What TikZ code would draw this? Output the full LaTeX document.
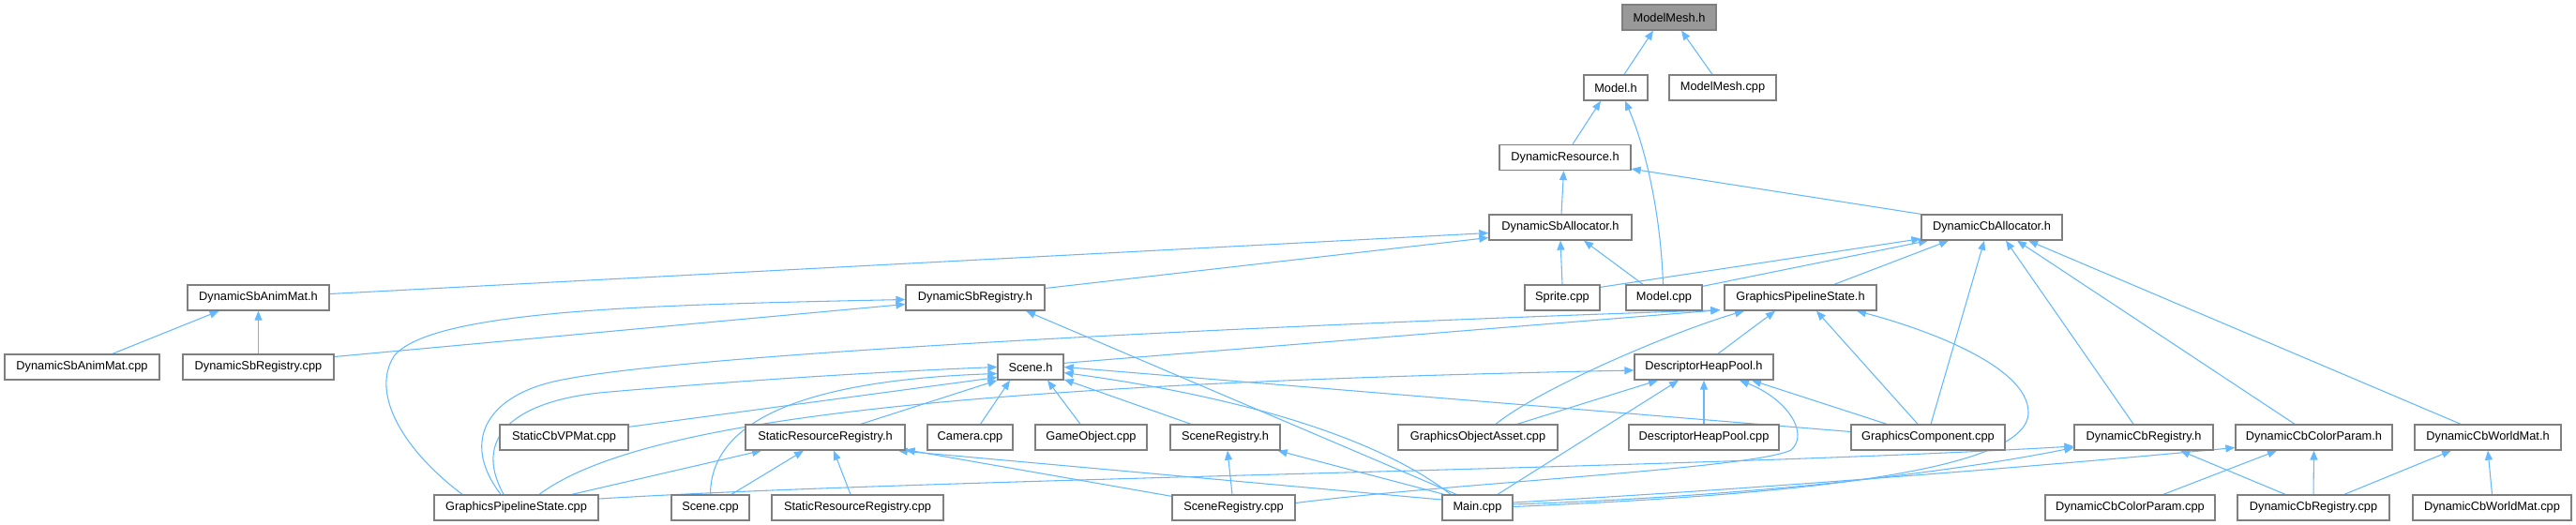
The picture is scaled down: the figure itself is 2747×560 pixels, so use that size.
\documentclass[tikz,border=0pt]{standalone}
\usepackage{fontspec}
\setmainfont{Liberation Sans}
\usetikzlibrary{arrows.meta,calc}
\definecolor{edgec}{HTML}{63B8FF}
\definecolor{boxc}{HTML}{7F7F7F}
\definecolor{topc}{HTML}{999999}
\pgfdeclarelayer{bg}
\pgfsetlayers{bg,main}
\tikzset{
  nbox/.style={draw=boxc, line width=1pt, fill=white, minimum height=20.25pt, inner sep=0pt,
    font=\fontsize{9.6}{11}\selectfont, text=black},
  edg/.style={draw=edgec, line width=0.8pt, -{Triangle[length=7.5pt,width=6pt]}},
}
\newcommand{\mkbox}[6][]{\node[nbox,#1,minimum width={#5*0.75pt}] (#2) at (#3,#4) {#6};}
\begin{document}
\begin{tikzpicture}[x=0.75pt,y=-0.75pt]
\useasboundingbox (0,0) rectangle (2747,560);
% row 1-4
\mkbox[fill=topc]{mm}{1780}{18.5}{100}{ModelMesh.h}
\mkbox{mh}{1723}{93.5}{68}{Model.h}
\mkbox{mmc}{1837}{93.5}{114}{ModelMesh.cpp}
\mkbox{dr}{1669}{168}{140}{DynamicResource.h}
\mkbox{dsa}{1664}{242.5}{152}{DynamicSbAllocator.h}
\mkbox{dca}{2124}{242.5}{150}{DynamicCbAllocator.h}
% row 5
\mkbox{dsam}{275.5}{317.5}{151}{DynamicSbAnimMat.h}
\mkbox{dsr}{1040}{317.5}{148}{DynamicSbRegistry.h}
\mkbox{spr}{1666}{317.5}{80}{Sprite.cpp}
\mkbox{mc}{1774.5}{317.5}{81}{Model.cpp}
\mkbox{gpsh}{1920}{317.5}{162}{GraphicsPipelineState.h}
% row 6
\mkbox{dsamc}{87.5}{391.5}{165}{DynamicSbAnimMat.cpp}
\mkbox{dsrc}{275.5}{391.5}{161}{DynamicSbRegistry.cpp}
\mkbox{sh}{1099}{391.5}{70}{Scene.h}
\mkbox{dhp}{1817}{391.5}{148}{DescriptorHeapPool.h}
% row 7
\mkbox{scb}{601.5}{466.5}{137}{StaticCbVPMat.cpp}
\mkbox{srr}{880}{466.5}{170}{StaticResourceRegistry.h}
\mkbox{cam}{1034.5}{466.5}{91}{Camera.cpp}
\mkbox{go}{1163.5}{466.5}{119}{GameObject.cpp}
\mkbox{srh}{1306.5}{466.5}{117}{SceneRegistry.h}
\mkbox{goa}{1576}{466.5}{170}{GraphicsObjectAsset.cpp}
\mkbox{dhpc}{1817}{466.5}{160}{DescriptorHeapPool.cpp}
\mkbox{gc}{2056}{466.5}{164}{GraphicsComponent.cpp}
\mkbox{dcr}{2286}{466.5}{148}{DynamicCbRegistry.h}
\mkbox{dccp}{2467.5}{466.5}{167}{DynamicCbColorParam.h}
\mkbox{dcwm}{2653}{466.5}{156}{DynamicCbWorldMat.h}
% row 8
\mkbox{gpsc}{550.5}{541.5}{175}{GraphicsPipelineState.cpp}
\mkbox{scc}{757.5}{541.5}{83}{Scene.cpp}
\mkbox{srrc}{914.5}{541.5}{183}{StaticResourceRegistry.cpp}
\mkbox{src}{1315.5}{541.5}{131}{SceneRegistry.cpp}
\mkbox{main}{1575.5}{541.5}{75}{Main.cpp}
\mkbox{dccpc}{2271.5}{541.5}{181}{DynamicCbColorParam.cpp}
\mkbox{dcrc}{2467}{541.5}{162}{DynamicCbRegistry.cpp}
\mkbox{dcwmc}{2657.5}{541.5}{169}{DynamicCbWorldMat.cpp}

\begin{pgfonlayer}{bg}
% upper part
\draw[edg] ($(mh.north)+(9,0)$) -- ($(mm.south)+(-17,0)$);
\draw[edg] ($(mmc.north)+(-11,0)$) -- ($(mm.south)+(13,0)$);
\draw[edg] ($(dr.north)+(8,0)$) -- ($(mh.south)+(-16,0)$);
\draw[edg] ($(mc.north)+(-1,0)$) .. controls +(-3,-84) and +(19,43) .. ($(mh.south)+(10,0)$);
\draw[edg] ($(dsa.north)+(1,0)$) -- ($(dr.south)+(-1.5,0)$);
\draw[edg] (dca.north west) -- ($(dr.south east)+(0,-2)$);
% DynamicSbAllocator.h
\draw[edg] ($(dsam.east)+(0,-4)$) -- ($(dsa.west)+(0,6)$);
\draw[edg] ($(dsr.east)+(0,-10)$) -- ($(dsa.west)+(0,11)$);
\draw[edg] (spr.north) -- (dsa.south);
\draw[edg] ($(mc.north)+(-22.5,0)$) -- ($(dsa.south)+(25,0)$);
% DynamicCbAllocator.h
\draw[edg] ($(spr.north east)+(0,3)$) -- ($(dca.south west)+(0,-2)$);
\draw[edg] ($(mc.north east)+(0,2)$) -- ($(dca.south)+(-68,0)$);
\draw[edg] ($(gpsh.north)+(36,0)$) -- ($(dca.south)+(-46,0)$);
\draw[edg] ($(gc.north)+(3,0)$) -- ($(dca.south)+(-8,0)$);
\draw[edg] ($(dcr.north)+(-11,0)$) -- ($(dca.south)+(15,0)$);
\draw[edg] ($(dccp.north)+(-20.5,0)$) -- ($(dca.south)+(27,0)$);
\draw[edg] ($(dcwm.north)+(-29,0)$) -- ($(dca.south)+(39,0)$);
% DynamicSbAnimMat.h / DynamicSbRegistry.h
\draw[edg] ($(dsamc.north)+(32.5,0)$) -- ($(dsam.south)+(-42,0)$);
\draw[edg] (dsrc.north) -- (dsam.south);
\draw[edg] ($(dsrc.east)+(0,-11)$) -- ($(dsr.west)+(0,7)$);
\draw[edg] ($(gpsc.north)+(-57.5,0)$) .. controls (430,480) and (395,420) .. (420,380)
   .. controls (460,330) and (700,325) .. ($(dsr.west)+(0,2)$);
\draw[edg] ($(main.north)+(-22.5,0)$) -- ($(dsr.south)+(54,0)$);
% GraphicsPipelineState.h
\draw[edg] ($(sh.north east)+(0,10)$) -- ($(gpsh.south west)+(-4,-1)$);
\draw[edg] ($(gpsc.north)+(-16.5,0)$) .. controls (490,470) and (520,420) .. (600,405)
   .. controls (750,375) and (1400,345) .. ($(gpsh.south west)+(-4,-1)$);
\draw[edg] ($(dhp.north)+(15,0)$) -- ($(gpsh.south)+(-27,0)$);
\draw[edg] ($(goa.north)+(19,0)$) .. controls +(50,-40) and +(-70,20) .. ($(gpsh.south)+(-60,0)$);
\draw[edg] ($(gc.north)+(-11,0)$) -- ($(gpsh.south)+(17,0)$);
\draw[edg] ($(main.east)+(0,-1)$) .. controls (1900,528) and (2163,505) .. (2163,440)
   .. controls (2163,390) and (2050,350) .. ($(gpsh.south)+(60,0)$);
% Scene.h
\draw[edg] ($(gpsc.north)+(-13.5,0)$) .. controls (500,460) and (560,425) .. (650,418)
   .. controls (800,405) and (950,396) .. (sh.west);
\draw[edg] (scc.north) .. controls (758,440) and (880,405) .. ($(sh.west)+(0,7)$);
\draw[edg] ($(scb.north east)+(0,3)$) -- ($(sh.west)+(0,11)$);
\draw[edg] ($(srr.north)+(38,0)$) -- (sh.south west);
\draw[edg] ($(cam.north)+(11,0)$) -- ($(sh.south)+(-22,0)$);
\draw[edg] ($(go.north)+(-11.5,0)$) -- ($(sh.south)+(18,0)$);
\draw[edg] ($(srh.north)+(-36.5,0)$) -- ($(sh.south east)+(0,-1)$);
\draw[edg] ($(main.north)+(-28.5,0)$) .. controls (1460,460) and (1300,420) .. ($(sh.east)+(0,6)$);
\draw[edg] ($(gc.west)+(0,-6)$) -- (sh.east);
% DescriptorHeapPool.h
\draw[edg] ($(gpsc.north)+(24.5,0)$) .. controls (680,450) and (1000,410) .. ($(dhp.west)+(0,3.5)$);
\draw[edg] ($(goa.north)+(42,0)$) -- ($(dhp.south)+(-49,0)$);
\draw[edg] ($(main.north)+(21.5,0)$) -- ($(dhp.south)+(-27,0)$);
\draw[edg] (dhpc.north) -- (dhp.south);
\draw[edg] ($(gc.north)+(-44,0)$) -- ($(dhp.south)+(51,0)$);
\draw[edg] ($(src.east)+(0,-5)$) .. controls (1550,515) and (1870,500) .. (1910,480)
   .. controls (1930,462) and (1905,425) .. ($(dhp.south)+(38,0)$);
% DynamicCbRegistry.h
\draw[edg] ($(gpsc.east)+(0,-9.5)$) .. controls (1000,510) and (1800,500) .. ($(dcr.west)+(0,9.5)$);
\draw[edg] ($(main.east)+(0,-3.5)$) .. controls (1900,528) and (2100,500) .. ($(dcr.west)+(0,11)$);
\draw[edg] ($(dcrc.north)+(-30,0)$) -- ($(dcr.south)+(39,0)$);
% DynamicCbColorParam.h
\draw[edg] ($(main.east)+(0,-5.5)$) .. controls (1900,520) and (2200,495) .. ($(dccp.west)+(0,11)$);
\draw[edg] ($(dccpc.north)+(35.5,0)$) -- ($(dccp.south)+(-39.5,0)$);
\draw[edg] (dcrc.north) -- (dccp.south);
% DynamicCbWorldMat.h
\draw[edg] ($(dcrc.north)+(33,0)$) -- ($(dcwm.south)+(-39,0)$);
\draw[edg] (dcwmc.north) -- (dcwm.south);
% StaticResourceRegistry.h
\draw[edg] ($(gpsc.north)+(59.5,0)$) -- ($(srr.south)+(-68,0)$);
\draw[edg] ($(scc.north)+(22.5,0)$) -- ($(srr.south)+(-23,0)$);
\draw[edg] ($(srrc.north)+(-7.5,0)$) -- ($(srr.south)+(9,0)$);
\draw[edg] ($(src.north west)+(0,2)$) -- ($(srr.south east)+(0,-1)$);
\draw[edg] ($(main.west)+(0,-8.5)$) -- ($(srr.south east)+(-8,0)$);
% SceneRegistry.h
\draw[edg] ($(src.north)+(-1.5,0)$) -- ($(srh.south)+(2.5,0)$);
\draw[edg] ($(main.north)+(-35.5,0)$) -- ($(srh.south east)+(-3,0)$);
\end{pgfonlayer}
\end{tikzpicture}
\end{document}
